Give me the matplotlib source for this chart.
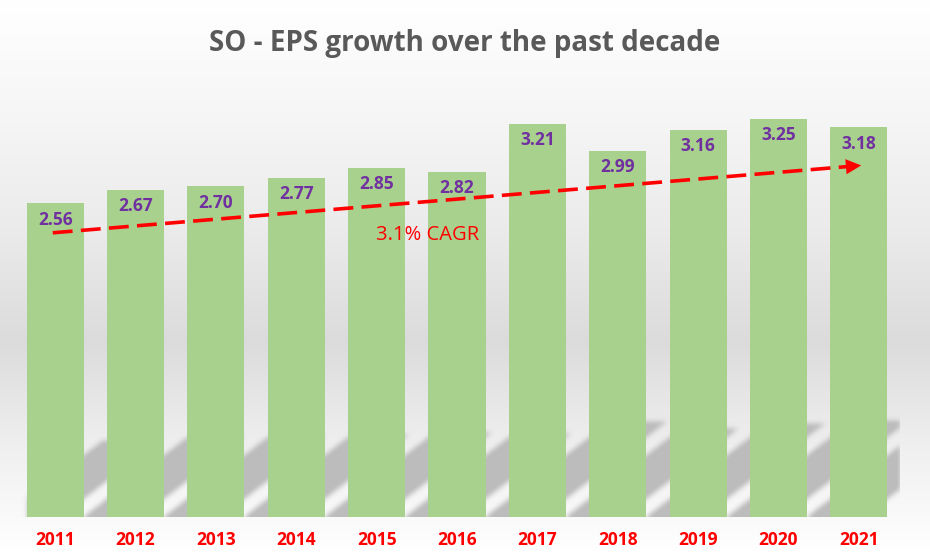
import numpy as np
import matplotlib.pyplot as plt

years = ['2011', '2012', '2013', '2014', '2015', '2016', '2017', '2018', '2019', '2020', '2021']
eps = [2.56, 2.67, 2.70, 2.77, 2.85, 2.82, 3.21, 2.99, 3.16, 3.25, 3.18]
trend_x = [-0.03, 10.03]
trend_y = [2.32, 2.87]
cagr_label = '3.1% CAGR'
cagr_pos = (4.63, 2.30)
title = 'SO - EPS growth over the past decade'

W, H, DPI = 930, 552, 100
plt.rcParams['font.family'] = ['Open Sans', 'DejaVu Sans']

fig = plt.figure(figsize=(W / DPI, H / DPI), dpi=DPI)

# background gradient (white -> grey -> white)
bg = fig.add_axes([0, 0, 1, 1], zorder=-10)
pos = [0.0, 0.2, 0.42, 0.62, 0.8, 1.0]
val = [1.0, 0.965, 0.92, 0.86, 0.935, 1.0]
g = np.interp(np.linspace(0, 1, H), pos, val)
bg.imshow(g[:, None, None] * np.ones((1, 1, 3)), aspect='auto', extent=(0, 1, 0, 1))
bg.axis('off')

ax = fig.add_axes([15 / W, 35 / H, 884 / W, 417 / H])
ax.set_facecolor('none')
bar_w = 0.71
x = np.arange(len(years))

# blurred perspective shadows behind the bars
xs = np.linspace(-0.5, 10.5, 884)
ys = np.linspace(-0.1, 1.0, 135)
X, Y = np.meshgrid(xs, ys)
mask = np.zeros_like(X)
skew = 1.98
gap = 1 - bar_w
for i, v in enumerate(eps):
    lo = i - bar_w / 2 - gap + skew * np.clip(Y, 0, None)
    hi = i + bar_w / 2 - gap + skew * np.clip(Y, 0, None)
    mask[(X >= lo) & (X <= hi) & (Y <= 0.24 * v)] = 1
mask[X < -bar_w / 2] = 0


def blur(a, s):
    k = np.exp(-0.5 * (np.arange(-3 * s, 3 * s + 1) / s) ** 2)
    k /= k.sum()
    a = np.apply_along_axis(lambda r: np.convolve(r, k, mode='same'), 1, a)
    a = np.apply_along_axis(lambda c: np.convolve(c, k, mode='same'), 0, a)
    return a


mask = blur(mask, 2.5)
img = np.ones(mask.shape + (4,)) * 0.74
img[..., 3] = np.clip(mask * 1.05, 0, 1)
ax.imshow(img, origin='lower', extent=(-0.5, 10.5, -0.1, 1.0), aspect='auto', zorder=1)

ax.bar(x, eps, width=bar_w, color='#A9D18E', zorder=3)
for i, v in enumerate(eps):
    ax.text(i, v - 0.135, f'{v:.2f}', ha='center', va='center', color='#7030A0',
            fontweight='bold', fontsize=12.5, zorder=5)

# trend arrow
frac = 0.982
xb = trend_x[0] + frac * (trend_x[1] - trend_x[0])
yb = trend_y[0] + frac * (trend_y[1] - trend_y[0])
ax.plot([trend_x[0], xb], [trend_y[0], yb], color='red', lw=2.6, dashes=(5.5, 2.3), zorder=6)
ax.annotate('', xy=(trend_x[1], trend_y[1]), xytext=(xb, yb),
            arrowprops=dict(arrowstyle='-|>,head_length=0.85,head_width=0.42', color='red',
                            lw=0, mutation_scale=13, shrinkA=0, shrinkB=0), zorder=6)
ax.text(cagr_pos[0], cagr_pos[1], cagr_label, ha='center', va='center', color='red',
        fontsize=14.5, fontweight='medium', zorder=6)

ax.set_xlim(-0.5, 10.5)
ax.set_ylim(0, 417 / 122.5)
ax.set_xticks(x, years)
ax.set_yticks([])
ax.tick_params(axis='x', length=0, pad=10, labelsize=12.5, labelcolor='red')
for lab in ax.get_xticklabels():
    lab.set_fontweight('bold')
for s in ax.spines.values():
    s.set_visible(False)

fig.text(0.5, 1 - 43 / H, title, ha='center', va='center', fontsize=20,
         color='#595959', fontweight='bold')

fig.savefig('out.png', dpi=DPI)
